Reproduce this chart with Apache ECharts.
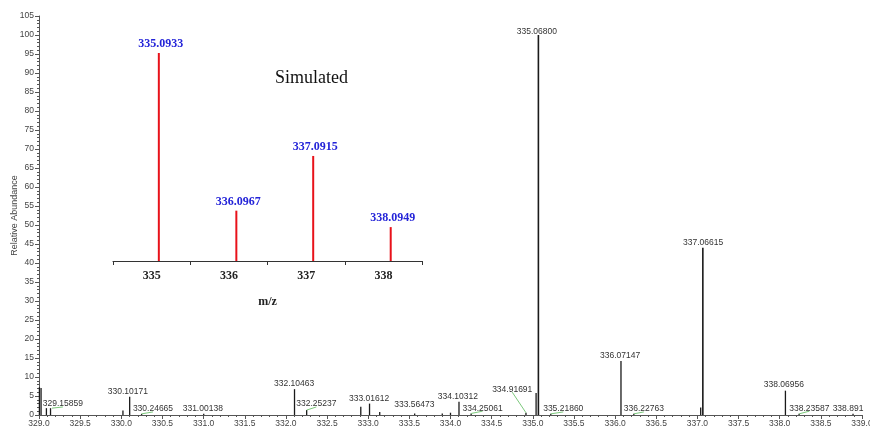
<!DOCTYPE html>
<html><head><meta charset="utf-8">
<script src="https://cdn.jsdelivr.net/npm/echarts@6/dist/echarts.min.js"></script>
<style>html,body{margin:0;padding:0;background:#fff}#c{width:870px;height:430px}</style>
</head><body><div id="c"></div>
<script>
// ---- Measured spectrum (m/z, relative abundance) ----
const peakMz  = [329.005, 329.025, 329.09, 329.14, 330.02, 330.10171, 330.24665, 331.00138, 332.10463, 332.25237, 332.91, 333.01612, 333.14, 333.56473, 333.90, 334.00, 334.10312, 334.25061, 334.91691, 335.04, 335.06800, 335.21860, 336.07147, 336.22763, 337.04, 337.06615, 338.06956, 338.23587, 338.891];
const peakInt = [7.3, 7.1, 1.8, 1.8, 1.2, 4.8, 0.3, 0.3, 6.8, 1.3, 2.2, 3.0, 0.8, 0.4, 0.4, 0.6, 3.5, 0.4, 0.6, 5.8, 100, 0.3, 14.2, 0.3, 2.0, 44.0, 6.4, 0.3, 0.3];

// ---- Peak annotations: text and anchor (in m/z, abundance units) ----
const labelText  = ['329.15859','330.10171','330.24665','331.00138','332.10463','332.25237','333.01612','333.56473','334.10312','334.25061','334.91691','335.06800','335.21860','336.07147','336.22763','337.06615','338.06956','338.23587','338.891'];
const labelMz    = [329.29, 330.08, 330.385, 330.99, 332.10, 332.37, 333.01, 333.56, 334.09, 334.39, 334.75, 335.05, 335.37, 336.06, 336.35, 337.07, 338.05, 338.36, 338.83];
const labelAbund = [2.9, 6.05, 1.6, 1.6, 8.2, 2.9, 4.2, 2.6, 4.7, 1.8, 6.8, 101, 1.6, 15.5, 1.6, 45.3, 7.9, 1.8, 1.8];
const leaderLabels = ['329.15859','330.24665','332.25237','334.25061','334.91691','335.21860','336.22763','338.23587'];

// ---- Simulated isotope pattern (inset) ----
const simMz  = [335.0933, 336.0967, 337.0915, 338.0949];
const simInt = [100, 24.2, 50.5, 16.3];
const simTickLabels = [335, 336, 337, 338];
const simTickMarks  = [334.5, 335.5, 336.5, 337.5, 338.5];

function nearestInt(mz){
  let best = 0, bd = 1e9;
  for (let i=0;i<peakMz.length;i++){ const d=Math.abs(peakMz[i]-mz); if(d<bd){bd=d;best=i;} }
  return peakInt[best];
}
const leaderData = leaderLabels.map(t => {
  const i = labelText.indexOf(t);
  const m = parseFloat(t);
  return [m, nearestInt(m), labelMz[i], labelAbund[i]];
});

const chart = echarts.init(document.getElementById('c'), null, {renderer:'canvas'});
const axCol = '#555', txCol = '#444', sans = 'Liberation Sans, Arial, sans-serif', serif = 'Liberation Serif, Times New Roman, serif';

chart.setOption({
  animation:false,
  backgroundColor:'#fff',
  grid:[
    {left:39, right:8, top:16, bottom:15, containLabel:false, outerBoundsMode:'none'},
    {left:113, right:448, top:53, bottom:169, containLabel:false, outerBoundsMode:'none'}
  ],
  xAxis:[
    {type:'value', gridIndex:0, min:329, max:339, interval:0.5,
     axisLine:{lineStyle:{color:axCol,width:1}},
     axisTick:{length:4, lineStyle:{color:axCol}},
     minorTick:{show:true, splitNumber:5, length:2, lineStyle:{color:axCol}},
     splitLine:{show:false},
     axisLabel:{fontSize:8.5, fontFamily:sans, color:txCol, margin:4, formatter:v=>v.toFixed(1), hideOverlap:false},
    },
    {type:'value', gridIndex:1, min:334.5, max:338.5,
     axisLine:{lineStyle:{color:'#333',width:1}},
     axisTick:{length:4, customValues:simTickMarks, lineStyle:{color:'#333'}},
     splitLine:{show:false},
     axisLabel:{customValues:simTickLabels, fontSize:12, fontWeight:'bold', fontFamily:serif, color:'#222', margin:9},
     name:'m/z', nameLocation:'middle', nameGap:35, nameMoveOverlap:false,
     nameTextStyle:{fontSize:12, fontWeight:'bold', fontFamily:serif, color:'#222'}}
  ],
  yAxis:[
    {type:'value', gridIndex:0, min:0, max:105, interval:5,
     axisLine:{show:true, lineStyle:{color:axCol,width:1}},
     axisTick:{show:true, length:4, lineStyle:{color:axCol}},
     minorTick:{show:true, splitNumber:5, length:2, lineStyle:{color:axCol}},
     splitLine:{show:false},
     axisLabel:{fontSize:8.5, fontFamily:sans, color:txCol, margin:5},
     name:'Relative Abundance', nameLocation:'middle', nameGap:20, nameMoveOverlap:false,
     nameTextStyle:{fontSize:9, fontFamily:sans, color:txCol}},
    {type:'value', gridIndex:1, min:0, max:100, show:false}
  ],
  graphic:[
    {type:'text', left:275, top:69, style:{text:'Simulated', fontSize:18, fontFamily:serif, fill:'#111'}}
  ],
  series:[
    {type:'custom', xAxisIndex:0, yAxisIndex:0, data:peakMz.map((m,i)=>[m,peakInt[i]]),
     renderItem:(params, api)=>{
       const p0 = api.coord([api.value(0),0]), p1 = api.coord([api.value(0),api.value(1)]);
       return {type:'line', shape:{x1:p0[0],y1:p0[1],x2:p1[0],y2:p1[1]}, style:{stroke:'#1a1a1a', lineWidth: api.value(1)>20?1.6:1.3}};
     }},
    {type:'custom', xAxisIndex:0, yAxisIndex:0, data:leaderData,
     renderItem:(params, api)=>{
       const p0 = api.coord([api.value(0),api.value(1)]), p1 = api.coord([api.value(2),api.value(3)]);
       return {type:'line', shape:{x1:p0[0],y1:p0[1],x2:p1[0],y2:p1[1]+3}, style:{stroke:'#7cc97c', lineWidth:1}};
     }},
    {type:'custom', xAxisIndex:0, yAxisIndex:0, data:labelMz.map((m,i)=>[m,labelAbund[i]]),
     renderItem:(params, api)=>{
       const p = api.coord([api.value(0),api.value(1)]);
       return {type:'text', x:p[0], y:p[1], style:{text:labelText[params.dataIndex], fontSize:8.5, fontFamily:sans, fill:'#333', align:'center', verticalAlign:'middle'}};
     }},
    {type:'custom', xAxisIndex:1, yAxisIndex:1, data:simMz.map((m,i)=>[m,simInt[i]]),
     renderItem:(params, api)=>{
       const p0 = api.coord([api.value(0),0]), p1 = api.coord([api.value(0),api.value(1)]);
       return {type:'group', children:[
         {type:'line', shape:{x1:p0[0],y1:p0[1],x2:p1[0],y2:p1[1]}, style:{stroke:'#e8121a', lineWidth:2}},
         {type:'text', x:p1[0]+2, y:p1[1]-9, style:{text:api.value(0).toFixed(4), fontSize:12, fontWeight:'bold', fontFamily:serif, fill:'#2323d8', align:'center', verticalAlign:'middle'}}
       ]};
     }}
  ]
});
</script></body></html>
